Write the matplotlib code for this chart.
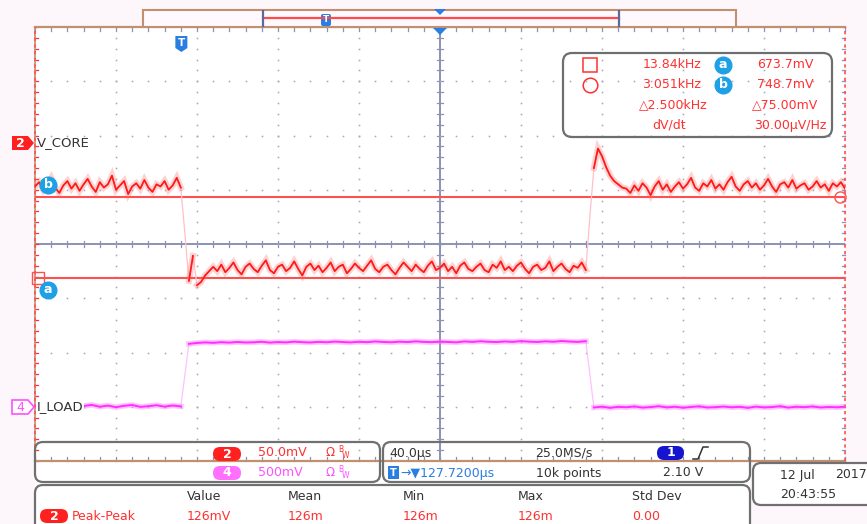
import numpy as np
import matplotlib
matplotlib.use('Agg')
import matplotlib.pyplot as plt
from matplotlib.patches import FancyBboxPatch, Polygon, Rectangle

plt.rcParams['font.family'] = ['DejaVu Sans']

# ---------------- data ----------------
time_us = np.arange(-200, 201, 2)          # CH2 sample times, us (40 us/div)
v_core_mV = [
    # before load step
    758, 762, 755, 760, 766, 757, 752, 759, 763, 756, 761, 754, 760, 765, 758, 753, 762, 757, 760, 768,
    755, 759, 763, 751, 758, 761, 756, 764, 757, 753, 760, 758, 763, 755, 759, 766, 757,
    # step down / undershoot
    715, 671, 694, 667, 670, 676, 680,
    # loaded level
    684, 680, 686, 679, 683, 688, 681, 677, 684, 687, 682, 679, 685, 690, 681, 678, 684, 686, 680, 683,
    689, 682, 676, 684, 687, 681, 685, 679, 683, 688, 680, 684, 686, 678, 682, 687, 683, 680, 685, 690,
    682, 679, 684, 686, 681, 677, 683, 688, 684, 680, 686, 682, 679, 685, 689, 681, 683, 687, 680, 684,
    678, 685, 688, 682, 680, 684, 687, 681, 679, 686, 683, 689, 681, 684, 680, 685, 688, 682, 678, 684,
    686, 681, 683, 689, 680, 684, 687, 682, 679, 685, 683, 688, 681,
    # load release / overshoot
    730, 775, 793, 786, 776, 768, 763, 760, 757,
    # after release
    756, 752, 759, 754, 761, 757, 750, 758, 763, 755, 760, 753, 758, 762, 756, 760, 766, 757, 754, 761,
    758, 764, 756, 760, 755, 762, 767, 758, 754, 760, 763, 757, 761, 755, 759, 765, 758, 753, 760, 762,
    757, 764, 756, 759, 761, 755, 758, 763, 757, 760, 754, 761, 758, 762, 756,
]
time4_us = np.arange(-200, 201, 4)         # CH4 sample times, us
i_load_mV = [
    5, -8, 10, -3, 8, -10, 2, 12, -5, 6, -9, 4, 11, -6, 0, 9, -4, 7, -2,
    575, 583, 588, 584, 590, 586, 592, 587, 589, 594, 586, 591, 588, 595, 590, 587, 593, 589, 596, 591,
    588, 594, 590, 597, 592, 589, 595, 591, 598, 593, 590, 596, 592, 588, 597, 593, 599, 594, 591, 597,
    593, 600, 595, 592, 598, 594, 601, 596, 593, 599,
    -12, -4, -15, -6, -10, -2, -13, -8, 0, -11, -5, -14, -7, -1, -12, -9, -3, -10, -6, -15,
    -4, -11, -8, 0, -13, -5, -9, -2, -12, -7, -10, -4,
]

CH2_SCALE_mV = 50.0
CH4_SCALE_mV = 500.0
CH2_CENTER_mV = 705.0
CH4_POS_DIV = -2.99
CURSOR_A_mV = 673.7
CURSOR_B_mV = 748.7
TRIG_US = -127.72

cursor_col1 = ["13.84kHz", "3.051kHz", "\u25b32.500kHz", "dV/dt"]
cursor_col2 = ["673.7mV", "748.7mV", "\u25b375.00mV", "30.00\u00b5V/Hz"]
meas_headers = ["Value", "Mean", "Min", "Max", "Std Dev"]
meas_values = ["126mV", "126m", "126m", "126m", "0.00"]

# ---------------- figure ----------------
W, H = 867, 524
L, R, T, B = 35, 845, 27, 461
RED = '#ff3030'
MAG = '#ff50ff'
DARK = '#333333'
BLUE = '#2a7de1'
GRIDC = '#a6a8bc'
CENTC = '#8c92b4'
BROWN = '#c09070'

fig = plt.figure(figsize=(W / 100, H / 100), dpi=100)
fig.patch.set_facecolor('#fdf6fb')
fig.add_artist(Rectangle((L / W, 0), (750 - L) / W, (H - B) / H, transform=fig.transFigure,
                         fc='white', ec='none', zorder=-5))

ax = fig.add_axes([L / W, 1 - B / H, (R - L) / W, (B - T) / H])
ax.set_xlim(-200, 200)
ax.set_ylim(-4, 4)
ax.set_facecolor('white')
for s in ax.spines.values():
    s.set_visible(False)
ax.set_xticks([])
ax.set_yticks([])

minor_x = np.arange(-200, 201, 8)
minor_y = np.linspace(-4, 4, 41)
for gx in np.arange(-160, 161, 40):
    if gx == 0:
        continue
    ax.plot(np.full(minor_y.shape, gx), minor_y, ls='none', marker='s', ms=1.15, mew=0, color=GRIDC)
for gy in range(-3, 4):
    if gy == 0:
        continue
    ax.plot(minor_x, np.full(minor_x.shape, float(gy)), ls='none', marker='s', ms=1.15, mew=0, color=GRIDC)

ax.axhline(0, color=CENTC, lw=1.4, zorder=1)
ax.axvline(0, color=CENTC, lw=1.4, zorder=1)
for xx in minor_x:
    ax.plot([xx, xx], [-0.06, 0.06], color=CENTC, lw=0.9, zorder=1)
    ax.plot([xx, xx], [4, 3.93], color=CENTC, lw=0.9, clip_on=False)
    ax.plot([xx, xx], [-4, -3.93], color=CENTC, lw=0.9, clip_on=False)
for yy in minor_y:
    ax.plot([-1.6, 1.6], [yy, yy], color=CENTC, lw=0.9, zorder=1)
    ax.plot([-200, -198.5], [yy, yy], color=RED, lw=0.9, clip_on=False)
    ax.plot([198.5, 200], [yy, yy], color=CENTC, lw=0.9, clip_on=False)

# frame
ax.plot([-200, 200], [4, 4], color=BROWN, lw=1.6, clip_on=False)
ax.plot([-200, 200], [-4, -4], color=BROWN, lw=1.6, clip_on=False)
ax.plot([-200, -200], [-4, 4], color=BROWN, lw=1.2, clip_on=False)
ax.plot([-200, -200], [-4, 4], color='#ff5050', lw=1.2, ls=(0, (2, 2)), clip_on=False)
ax.plot([200, 200], [-4, 4], color='#ff5050', lw=1.2, ls=(0, (2, 2)), clip_on=False)


def split_edges(t, y, thr=0.5):
    idx = np.where(np.abs(np.diff(y)) > thr)[0]
    return np.insert(t.astype(float), idx + 1, np.nan), np.insert(y, idx + 1, np.nan)


# cursors
ya = (CURSOR_A_mV - CH2_CENTER_mV) / CH2_SCALE_mV
yb = (CURSOR_B_mV - CH2_CENTER_mV) / CH2_SCALE_mV
ax.axhline(ya, color='#ff5050', lw=1.5, zorder=2)
ax.axhline(yb, color='#ff5050', lw=1.5, zorder=2)
ax.plot(-198.5, ya, marker='s', ms=8, mfc='none', mec='#ff5050', mew=1.0, clip_on=False, zorder=3)
ax.plot(197.5, yb, marker='o', ms=8, mfc='none', mec='#ff5050', mew=1.0, clip_on=False, zorder=3)

# CH2 trace
y2 = (np.array(v_core_mV, dtype=float) - CH2_CENTER_mV) / CH2_SCALE_mV
ax.plot(time_us, y2, color='#ffc0c8', lw=0.9, zorder=4)
ts, ys = split_edges(time_us, y2)
ax.plot(ts, ys, color='#ff6060', lw=4.5, alpha=0.28, zorder=4, solid_joinstyle='miter')
ax.plot(ts, ys, color='#ff1a1a', lw=1.3, zorder=5)

# CH4 trace
y4 = np.array(i_load_mV, dtype=float) / CH4_SCALE_mV + CH4_POS_DIV
ax.plot(time4_us, y4, color='#ffc0ff', lw=0.9, zorder=4)
ts4, ys4 = split_edges(time4_us, y4)
ax.plot(ts4, ys4, color='#ff70ff', lw=4.0, alpha=0.4, zorder=4)
ax.plot(ts4, ys4, color='#ff30ff', lw=1.4, zorder=5)

# a / b cursor badges
for lab, yy in (('b', yb + 0.22), ('a', ya - 0.22)):
    ax.plot(-193.5, yy, 'o', ms=12, color='#1ea0e6', zorder=6, clip_on=False)
    ax.text(-193.5, yy, lab, color='white', ha='center', va='center', fontsize=9,
            weight='bold', zorder=7)

# ---------------- overlay (pixel coordinates) ----------------
ov = fig.add_axes([0, 0, 1, 1])
ov.set_xlim(0, W)
ov.set_ylim(H, 0)
ov.axis('off')
ov.patch.set_alpha(0)


def px_t(t_us):
    return L + (t_us + 200) / 400 * (R - L)


def rbox(x, y, w, h, r, **kw):
    ov.add_patch(FancyBboxPatch((x, y), w, h, boxstyle=f'round,pad=0,rounding_size={r}', **kw))


# top record bar
ov.add_patch(Rectangle((143, 10), 593, 17, fc='#fff8fc', ec=BROWN, lw=1.5))
ov.plot([263, 619], [17.5, 17.5], color='#ff4a4a', lw=1.6)
ov.plot([263, 263], [11, 26], color='#5a6a9a', lw=1.6)
ov.plot([619, 619], [11, 26], color='#5a6a9a', lw=1.6)
rbox(321, 14, 10, 12, 2, fc=BLUE, ec='none')
ov.text(326, 20, 'T', color='white', fontsize=6.5, weight='bold', ha='center', va='center')
ov.add_patch(Polygon([(434, 9), (446, 9), (440, 15)], closed=True, fc=BLUE, ec='none'))
ov.add_patch(Polygon([(433, 28), (447, 28), (440, 35)], closed=True, fc=BLUE, ec='none'))

# trigger marker in plot
tx = px_t(TRIG_US)
ov.add_patch(Polygon([(tx - 6, 36), (tx + 6, 36), (tx + 6, 48), (tx, 52), (tx - 6, 48)],
                     closed=True, fc=BLUE, ec='none'))
ov.text(tx, 43, 'T', color='white', fontsize=7.5, weight='bold', ha='center', va='center')

# channel markers and labels
ov.add_patch(Polygon([(12, 136), (28, 136), (34, 143), (28, 150), (12, 150)], closed=True,
                     fc='#ff2020', ec='none'))
ov.text(20, 143.5, '2', color='white', fontsize=9, weight='bold', ha='center', va='center')
ov.text(37, 143, 'V_CORE', color=DARK, fontsize=9.5, ha='left', va='center')
ov.add_patch(Polygon([(12, 400), (28, 400), (34, 407), (28, 414), (12, 414)], closed=True,
                     fc='white', ec=MAG, lw=1.2))
ov.text(20, 407.5, '4', color=MAG, fontsize=9, ha='center', va='center')
ov.text(37, 407, 'I_LOAD', color=DARK, fontsize=9.5, ha='left', va='center',
        bbox=dict(fc='white', ec='none', pad=0.6))

# cursor readout box
rbox(563, 53, 269, 84, 9, fc='none', ec='#6e6e6e', lw=1.6)
ov.add_patch(Rectangle((583, 58), 14, 14, fc='none', ec=RED, lw=1.1))
ov.plot(590, 85, 'o', ms=10.5, mfc='none', mec=RED, mew=1.1)
rows_y = [65, 85, 105, 125]
for i, yy in enumerate(rows_y):
    if i < 2:
        ov.text(701, yy, cursor_col1[i], color=RED, fontsize=9, ha='right', va='center')
        ov.text(814, yy, cursor_col2[i], color=RED, fontsize=9, ha='right', va='center')
        ov.plot(723, yy, 'o', ms=12, color='#1ea0e6')
        ov.text(723, yy, 'ab'[i], color='white', fontsize=9, weight='bold', ha='center', va='center')
    elif i == 2:
        ov.text(708, yy, cursor_col1[i], color=RED, fontsize=9, ha='right', va='center')
        ov.text(818, yy, cursor_col2[i], color=RED, fontsize=9, ha='right', va='center')
    else:
        ov.text(669, yy, cursor_col1[i], color=RED, fontsize=9, ha='center', va='center')
        ov.text(826, yy, cursor_col2[i], color=RED, fontsize=9, ha='right', va='center')

# bottom panel A: vertical settings
rbox(35, 442, 345, 40, 8, fc='none', ec='#707070', lw=1.6)
rbox(213, 447, 28, 14, 7, fc='#ff2020', ec='none')
ov.text(227, 454, '2', color='white', fontsize=9, weight='bold', ha='center', va='center')
ov.text(258, 453, '50.0mV', color=RED, fontsize=9, ha='left', va='center')
rbox(213, 466, 28, 14, 7, fc='#ff70ff', ec='none')
ov.text(227, 473, '4', color='white', fontsize=9, weight='bold', ha='center', va='center')
ov.text(258, 472, '500mV', color=MAG, fontsize=9, ha='left', va='center')
for yy, c in ((453, RED), (472, MAG)):
    ov.text(326, yy, '\u03a9', color=c, fontsize=8.5, ha='left', va='center')
    ov.text(338, yy - 3, 'B', color=c, fontsize=5.5, ha='left', va='center')
    ov.text(342, yy + 3, 'W', color=c, fontsize=5.5, ha='left', va='center')

# bottom panel B: horizontal / trigger
rbox(383, 442, 367, 40, 8, fc='none', ec='#707070', lw=1.6)
ov.text(389, 453, '40.0\u00b5s', color=DARK, fontsize=9, ha='left', va='center')
ov.text(535, 453, '25.0MS/s', color=DARK, fontsize=9, ha='left', va='center')
rbox(657, 446, 27, 14, 7, fc='#1515d0', ec='none')
ov.text(670.5, 453, '1', color='white', fontsize=9, weight='bold', ha='center', va='center')
ov.plot([693, 698, 703, 708], [459, 459, 447, 447], color=DARK, lw=1.1)
ov.add_patch(Rectangle((388, 466), 11, 13, fc=BLUE, ec='none'))
ov.text(393.5, 472.5, 'T', color='white', fontsize=7, weight='bold', ha='center', va='center')
ov.text(400, 473, '\u2192\u25bc127.7200\u00b5s', color=BLUE, fontsize=9, ha='left', va='center')
ov.text(536, 473, '10k points', color=DARK, fontsize=9, ha='left', va='center')
ov.text(663, 473, '2.10 V', color=DARK, fontsize=9, ha='left', va='center')

# date box
rbox(753, 463, 130, 42, 8, fc='white', ec='#707070', lw=1.6)
ov.text(780, 475, '12 Jul', color=DARK, fontsize=9, ha='left', va='center')
ov.text(835, 475, '2017', color=DARK, fontsize=9, ha='left', va='center')
ov.text(780, 494, '20:43:55', color=DARK, fontsize=9, ha='left', va='center')

# measurement panel
rbox(35, 485, 715, 60, 8, fc='none', ec='#707070', lw=1.6)
meas_x = [187, 288, 403, 518, 632]
for x, hdr, val in zip(meas_x, meas_headers, meas_values):
    ov.text(x, 496, hdr, color=DARK, fontsize=9, ha='left', va='center')
    ov.text(x, 516, val, color=RED, fontsize=9, ha='left', va='center')
rbox(40, 509, 28, 14, 7, fc='#ff2020', ec='none')
ov.text(54, 516, '2', color='white', fontsize=9, weight='bold', ha='center', va='center')
ov.text(72, 516, 'Peak-Peak', color=RED, fontsize=9, ha='left', va='center')

fig.savefig('out.png', dpi=100, facecolor=fig.get_facecolor())
